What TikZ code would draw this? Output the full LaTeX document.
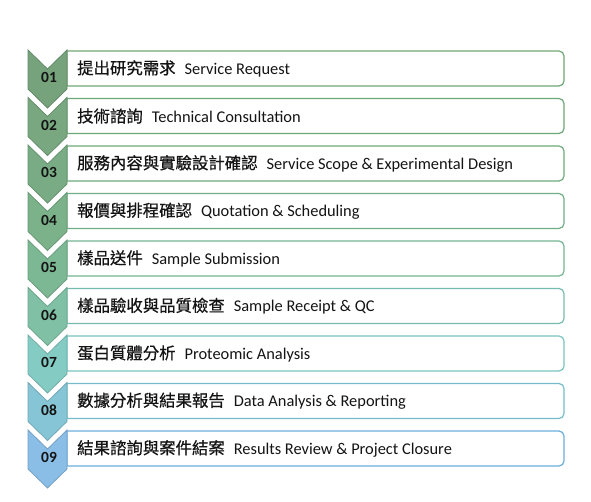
\documentclass[tikz,border=0pt]{standalone}
\usepackage{fontspec}
\setmainfont{Carlito}
\newfontfamily\cjkfont[FakeBold=0.6]{Noto Sans CJK TC}
\newfontfamily\numfont{Carlito}
\begin{document}
\begin{tikzpicture}[x=1pt,y=-1pt,
  chev/.style={line width=0.8pt},
  stepbox/.style={line width=1.2pt, fill=white},
  numlabel/.style={font=\numfont\fontsize{15.5}{15.5}\selectfont\bfseries, text=black!92},
  steplabel/.style={anchor=west, inner sep=0pt, font=\fontsize{16.4}{18}\selectfont, text=black!92}]
\useasboundingbox (0,0) rectangle (591,502);
\fill[white] (0,0) rectangle (591,502);
\definecolor{cf1}{HTML}{76A27C}\definecolor{cb1}{HTML}{6FA676}
\definecolor{cf2}{HTML}{78A780}\definecolor{cb2}{HTML}{6FA878}
\definecolor{cf3}{HTML}{79AC84}\definecolor{cb3}{HTML}{70AA7B}
\definecolor{cf4}{HTML}{7BB28A}\definecolor{cb4}{HTML}{72AE86}
\definecolor{cf5}{HTML}{7DB894}\definecolor{cb5}{HTML}{75B595}
\definecolor{cf6}{HTML}{80C1A6}\definecolor{cb6}{HTML}{76BCAE}
\definecolor{cf7}{HTML}{84CBC4}\definecolor{cb7}{HTML}{78C4C0}
\definecolor{cf8}{HTML}{86C5D6}\definecolor{cb8}{HTML}{74BCC8}
\definecolor{cf9}{HTML}{8ABEE6}\definecolor{cb9}{HTML}{6AAEDC}
\foreach \i/\cj/\en in {
  1/提出研究需求/Service Request,
  2/技術諮詢/Technical Consultation,
  3/服務內容與實驗設計確認/Service Scope \& Experimental Design,
  4/報價與排程確認/Quotation \& Scheduling,
  5/樣品送件/Sample Submission,
  6/樣品驗收與品質檢查/Sample Receipt \& QC,
  7/蛋白質體分析/Proteomic Analysis,
  8/數據分析與結果報告/Data Analysis \& Reporting,
  9/結果諮詢與案件結案/Results Review \& Project Closure}{
  \pgfmathsetmacro{\yt}{50+47.5*(\i-1)}
  \pgfmathsetmacro{\yb}{51+47.5*(\i-1)}
  % box
  \draw[stepbox, draw=cb\i] (67,\yb) coordinate (b\i)
     [rounded corners=5pt] -- (564,\yb) -- (564,\yb+35)
     [sharp corners] -- (67,\yb+35) -- cycle;
  % chevron
  \draw[chev, fill=cf\i, draw=cf\i!85!black] (28,\yt) -- (47.5,\yt+19) -- (67,\yt)
     -- (67,\yt+39) -- (47.5,\yt+58) -- (28,\yt+39) -- cycle;
  \node[numlabel] (n\i) at (49,\yt+27.5) {0\i};
  \node[steplabel] (t\i) at (77,\yb+17.5) {{\cjkfont\cj}\hspace{9pt}\en};
}
\end{tikzpicture}
\end{document}
